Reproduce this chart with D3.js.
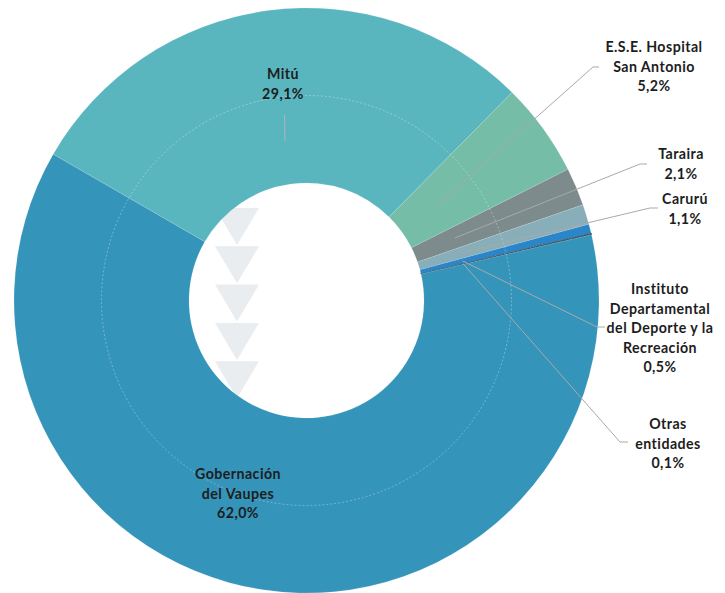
<!DOCTYPE html>
<html><head><meta charset="utf-8">
<script src="https://cdn.jsdelivr.net/npm/d3@7/dist/d3.min.js"></script>
<style>
html,body{margin:0;padding:0;background:#fff;}
svg{display:block;}
text{font-family:"Lato","Open Sans",sans-serif;font-weight:700;font-size:14.2px;letter-spacing:0.45px;fill:#1d1d1d;}
</style></head>
<body>
<svg id="chart" width="725" height="593"></svg>
<script>
// ---- data ----
const categories = ["Mitú","E.S.E. Hospital San Antonio","Taraira","Carurú","Instituto Departamental del Deporte y la Recreación","Otras entidades","Gobernación del Vaupes"];
const values = [29.1, 5.2, 2.1, 1.1, 0.5, 0.1, 62.0];
const valueLabels = ["29,1%","5,2%","2,1%","1,1%","0,5%","0,1%","62,0%"];
const labelLines = [
  ["Mitú"],
  ["E.S.E. Hospital","San Antonio"],
  ["Taraira"],
  ["Carurú"],
  ["Instituto","Departamental","del Deporte y la","Recreación"],
  ["Otras","entidades"],
  ["Gobernación","del Vaupes"]
];
const colors = ["#59B6BF","#75BDA7","#7D8B8C","#87AEB9","#2A86C9","#3B5F72","#3594BA"];

// ---- layout ----
const cx = 306.5, cy = 300.5, R = 292.5, r0 = 117.5;
const labelLayout = [
  {tx:283, ty:74, elbow:null},
  {tx:654, ty:47, elbow:[593,67], hx:599},
  {tx:681, ty:154, elbow:[640,164], hx:647},
  {tx:685, ty:199, elbow:[650,208], hx:658},
  {tx:660, ty:289, elbow:[597,327], hx:605},
  {tx:668, ty:424, elbow:[620,442], hx:628},
  {tx:238, ty:474, elbow:null}
];

const svg = d3.select("#chart");
const g = svg.append("g").attr("transform", `translate(${cx},${cy})`);

// decorative arrows (behind donut)
const arrowsG = g.append("g");
d3.range(5).forEach(i => {
  const top = 208 + i*38.3 - cy;
  arrowsG.append("path")
    .attr("d", `M${237-cx-22},${top} L${237-cx+22},${top} L${237-cx},${top+37} Z`)
    .attr("fill", "#E9EDEF");
});

const data = categories.map((c,i)=>({name:c, value:values[i], i}));
const pie = d3.pie().value(d=>d.value).sort(null)
  .startAngle(-60*Math.PI/180).endAngle(-60*Math.PI/180 + 2*Math.PI*d3.sum(values)/100.1);
const arcs = pie(data);
const arc = d3.arc().innerRadius(r0).outerRadius(R);

g.selectAll("path.slice").data(arcs).enter().append("path")
  .attr("class","slice")
  .attr("d", arc)
  .attr("fill", d=>colors[d.data.i])
  .attr("stroke", d=> d.data.i===5 ? "#2f5568" : "rgba(255,255,255,0.25)")
  .attr("stroke-width", d=> d.data.i===5 ? 0.8 : 0.5)
  .attr("stroke-dasharray", d=> d.data.i===5 ? "2,1" : null);

// inner dashed circle
g.append("circle").attr("r", 205).attr("fill","none")
  .attr("stroke","rgba(255,255,255,0.4)").attr("stroke-width",0.8)
  .attr("stroke-dasharray","2,2");

// leader lines
arcs.forEach(d => {
  const L = labelLayout[d.data.i];
  const mid = (d.startAngle + d.endAngle)/2;
  const sx = 161*Math.sin(mid), sy = -161*Math.cos(mid);
  if (d.data.i === 0) {
    const ex = 187*Math.sin(mid)+3, ey = -187*Math.cos(mid);
    g.append("line").attr("x1",sx).attr("y1",sy).attr("x2",ex).attr("y2",ey)
      .attr("stroke","#B5B5B5").attr("stroke-width",1);
  } else if (L.elbow) {
    g.append("polyline")
      .attr("points", [[sx,sy],[L.elbow[0]-cx,L.elbow[1]-cy],[L.hx-cx,L.elbow[1]-cy]].map(p=>p.join(",")).join(" "))
      .attr("fill","none").attr("stroke","#A9A9A9").attr("stroke-width",1);
  }
});

// labels
data.forEach(d => {
  const L = labelLayout[d.i];
  const lines = labelLines[d.i].concat([valueLabels[d.i]]);
  const t = svg.append("text").attr("text-anchor","middle");
  lines.forEach((ln,k) => {
    t.append("tspan").attr("x", L.tx).attr("y", L.ty + k*19.5 + 5).text(ln);
  });
});
</script>
</body></html>
